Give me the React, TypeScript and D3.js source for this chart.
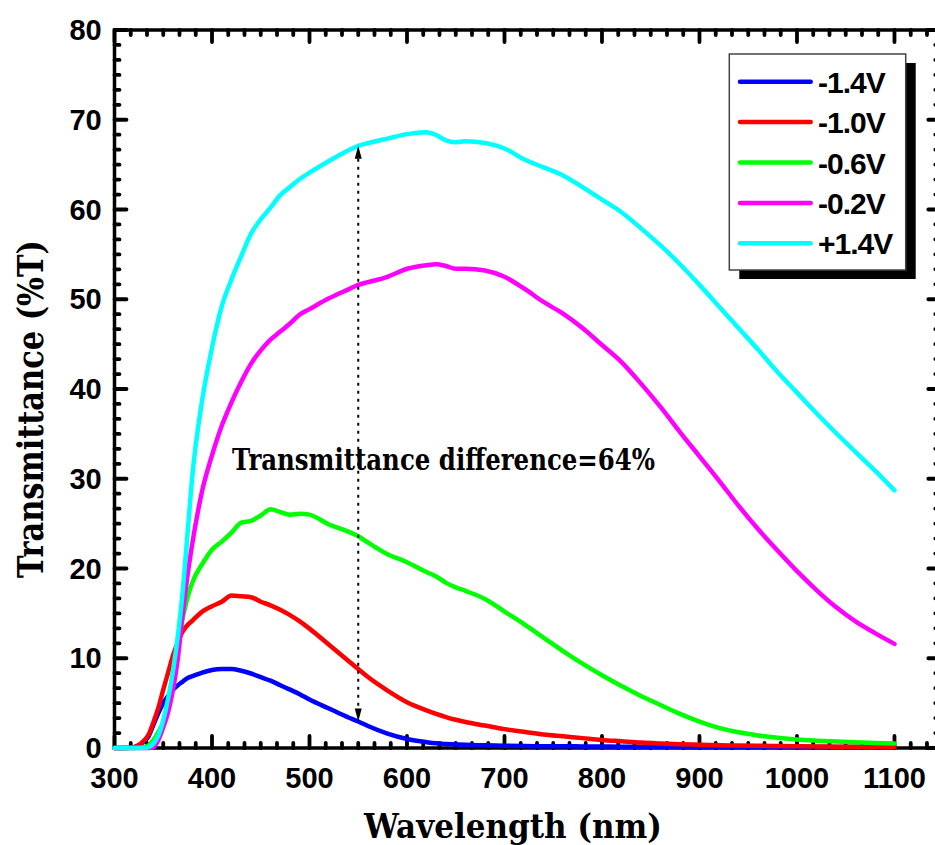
import React from 'react';
import * as d3 from 'd3';

const wavelengths = [300, 310, 320, 330, 335, 340, 345, 350, 355, 360, 365, 370, 375, 380, 390, 400, 410, 420, 430, 440, 450, 460, 470, 480, 490, 500, 520, 540, 550, 560, 580, 600, 620, 630, 640, 650, 660, 680, 700, 720, 740, 760, 780, 800, 820, 840, 860, 880, 900, 920, 940, 960, 980, 1000, 1020, 1040, 1060, 1080, 1100];

const vMinus14 = [0, 0, 0.1, 0.7, 1.3, 2.6, 3.9, 5.0, 5.8, 6.5, 7.0, 7.4, 7.8, 8.0, 8.4, 8.7, 8.8, 8.8, 8.6, 8.3, 7.9, 7.5, 7.0, 6.5, 6.0, 5.4, 4.4, 3.4, 2.95, 2.45, 1.6, 1.0, 0.65, 0.52, 0.45, 0.4, 0.35, 0.3, 0.25, 0.22, 0.2, 0.2, 0.18, 0.17, 0.15, 0.15, 0.14, 0.13, 0.12, 0.12, 0.11, 0.1, 0.1, 0.1, 0.1, 0.1, 0.1, 0.1, 0.1];
const vMinus10 = [0, 0, 0.1, 0.8, 1.5, 2.9, 4.5, 6.5, 8.4, 10.3, 11.8, 13.0, 13.7, 14.2, 15.2, 15.8, 16.3, 17.0, 16.9, 16.8, 16.3, 15.9, 15.4, 14.8, 14.1, 13.3, 11.5, 9.7, 8.8, 7.9, 6.4, 5.1, 4.2, 3.8, 3.45, 3.15, 2.9, 2.5, 2.1, 1.8, 1.5, 1.3, 1.1, 0.9, 0.75, 0.6, 0.5, 0.42, 0.36, 0.31, 0.28, 0.25, 0.22, 0.2, 0.18, 0.15, 0.13, 0.12, 0.1];
const vMinus06 = [0, 0, 0, 0.1, 0.3, 0.9, 1.8, 2.9, 5.2, 8.1, 11.7, 14.5, 16.8, 18.5, 20.5, 22.1, 23.0, 24.0, 25.1, 25.3, 25.9, 26.6, 26.3, 26.0, 26.1, 26.0, 24.9, 24.1, 23.6, 22.9, 21.6, 20.7, 19.6, 19.1, 18.4, 17.9, 17.5, 16.6, 15.2, 13.8, 12.3, 10.8, 9.4, 8.1, 6.9, 5.8, 4.8, 3.8, 2.95, 2.25, 1.75, 1.4, 1.15, 0.95, 0.82, 0.72, 0.63, 0.56, 0.5];
const vMinus02 = [0, 0, 0, 0, 0, 0.1, 0.9, 2.3, 4.0, 6.5, 10.0, 15.0, 19.3, 22.9, 28.7, 32.6, 35.9, 38.5, 40.8, 42.8, 44.3, 45.5, 46.4, 47.3, 48.3, 48.9, 50.1, 51.1, 51.6, 51.9, 52.5, 53.4, 53.8, 53.9, 53.7, 53.4, 53.4, 53.2, 52.5, 51.2, 49.7, 48.4, 46.8, 44.9, 43.0, 40.6, 38.0, 35.2, 32.5, 29.8, 27.0, 24.4, 22.0, 19.7, 17.6, 15.7, 14.1, 12.8, 11.6];
const vPlus14 = [0, 0, 0, 0, 0.1, 0.5, 1.4, 3.1, 5.5, 8.6, 12.5, 17.5, 24.0, 30.5, 38.8, 44.6, 49.2, 52.2, 54.8, 57.3, 58.9, 60.2, 61.6, 62.5, 63.4, 64.1, 65.4, 66.6, 67.1, 67.4, 67.9, 68.4, 68.6, 68.3, 67.7, 67.5, 67.6, 67.4, 66.8, 65.6, 64.7, 63.8, 62.5, 61.1, 59.7, 57.9, 56.0, 53.9, 51.6, 49.2, 46.8, 44.4, 41.9, 39.6, 37.3, 35.1, 33.0, 30.9, 28.7];

const seriesNames = ['-1.4V', '-1.0V', '-0.6V', '-0.2V', '+1.4V'];
const seriesValues = [vMinus14, vMinus10, vMinus06, vMinus02, vPlus14];
const seriesColors = ['#0000ff', '#ff0000', '#00ff00', '#ff00ff', '#00ffff'];

const xTickValues = [300, 400, 500, 600, 700, 800, 900, 1000, 1100];
const yTickValues = [0, 10, 20, 30, 40, 50, 60, 70, 80];

const annotationText = 'Transmittance difference=64%';
const annotationWavelength = 550;
const xTitle = 'Wavelength (nm)';
const yTitle = 'Transmittance (%T)';

const W = 935;
const H = 845;
const xMin = 300;
const xMax = 1147;
const yMin = 0;
const yMax = 80;

function notMajor(v: number, step: number) {
  const r = v / step;
  return Math.abs(r - Math.round(r)) > 1e-6;
}

export default function App() {
  const x = d3.scaleLinear().domain([xMin, xMax]).range([114.5, 940.3]);
  const y = d3.scaleLinear().domain([yMin, yMax]).range([748, 30]);

  const line = d3
    .line<number>()
    .x((_, i) => x(wavelengths[i]))
    .y((d) => y(d))
    .curve(d3.curveMonotoneX);

  const xMinor: number[] = [];
  for (let i = 0; i < 60; i++) {
    const v = xMin + (i * 100) / 6;
    if (v <= xMax && notMajor(v, 100)) xMinor.push(v);
  }
  const yMinor: number[] = [];
  for (let i = 0; i <= 48; i++) {
    const v = (i * 10) / 6;
    if (v <= yMax && notMajor(v, 10)) yMinor.push(v);
  }

  const xl = x(xMin);
  const xr = x(xMax);
  const yb = y(yMin);
  const yt = y(yMax);
  const majorLen = 12;
  const minorLen = 5;

  let tickPath = '';
  for (const v of xTickValues) {
    const px = x(v);
    tickPath += `M${px},${yb}V${yb - majorLen}M${px},${yt}V${yt + majorLen}`;
  }
  for (const v of xMinor) {
    const px = x(v);
    tickPath += `M${px},${yb}V${yb - minorLen}M${px},${yt}V${yt + minorLen}`;
  }
  for (const v of yTickValues) {
    const py = y(v);
    tickPath += `M${xl},${py}H${xl + majorLen}M${xr},${py}H${xr - majorLen}`;
  }
  for (const v of yMinor) {
    const py = y(v);
    tickPath += `M${xl},${py}H${xl + minorLen}M${xr},${py}H${xr - minorLen}`;
  }

  const sansFont = "'Liberation Sans', Arial, sans-serif";
  const serifFont = "'DejaVu Serif', 'Liberation Serif', serif";

  const ai = wavelengths.indexOf(annotationWavelength);
  const arrowX = x(annotationWavelength);
  const arrowTop = y(vPlus14[ai]);
  const arrowBottom = y(vMinus14[ai]);
  const headLen = 13;
  const headHalf = 3.5;

  const legendX = 729.3;
  const legendY = 54;
  const legendW = 176.4;
  const legendH = 216;
  const rowStart = 81.7;
  const rowStep = 40.4;

  return (
    <svg
      width={W}
      height={H}
      viewBox={`0 0 ${W} ${H}`}
      style={{ position: 'absolute', left: 0, top: 0, background: '#fff' }}
    >
      <rect x={0} y={0} width={W} height={H} fill="#fff" />

      {/* frame */}
      <rect x={xl} y={yt} width={xr - xl} height={yb - yt} fill="none" stroke="#000" strokeWidth={3.5} />

      {/* ticks */}
      <path d={tickPath} fill="none" stroke="#000" strokeWidth={3.8} strokeLinecap="round" />

      {/* tick labels */}
      <g fontFamily={sansFont} fontWeight="bold" fontSize={29} fill="#000">
        {xTickValues.map((v) => (
          <text key={'xlab' + v} x={x(v)} y={788} textAnchor="middle">
            {v}
          </text>
        ))}
        {yTickValues.map((v) => (
          <text key={'ylab' + v} x={101.7} y={y(v) + 10} textAnchor="end">
            {v}
          </text>
        ))}
      </g>

      {/* axis titles */}
      <text
        x={513}
        y={838}
        textAnchor="middle"
        fontFamily={serifFont}
        fontWeight="bold"
        fontSize={34}
        textLength={298}
        lengthAdjust="spacingAndGlyphs"
      >
        {xTitle}
      </text>
      <text
        transform="translate(43,409) rotate(-90)"
        textAnchor="middle"
        fontFamily={serifFont}
        fontWeight="bold"
        fontSize={35}
        textLength={338}
        lengthAdjust="spacingAndGlyphs"
      >
        {yTitle}
      </text>

      {/* curves */}
      <g fill="none" strokeWidth={4.5} strokeLinejoin="round" strokeLinecap="round">
        {seriesValues.map((vals, i) => (
          <path key={seriesNames[i]} d={line(vals) || ''} stroke={seriesColors[i]} />
        ))}
      </g>

      {/* annotation arrow */}
      <line
        x1={arrowX}
        x2={arrowX}
        y1={arrowTop + headLen}
        y2={arrowBottom - headLen}
        stroke="#000"
        strokeWidth={2}
        strokeDasharray="3,5"
      />
      <polygon
        points={`${arrowX},${arrowTop} ${arrowX - headHalf},${arrowTop + headLen} ${arrowX + headHalf},${arrowTop + headLen}`}
        fill="#000"
      />
      <polygon
        points={`${arrowX},${arrowBottom} ${arrowX - headHalf},${arrowBottom - headLen} ${arrowX + headHalf},${arrowBottom - headLen}`}
        fill="#000"
      />
      <text
        x={232}
        y={470}
        fontFamily={serifFont}
        fontWeight="bold"
        fontSize={30}
        textLength={423}
        lengthAdjust="spacingAndGlyphs"
      >
        {annotationText}
      </text>

      {/* legend */}
      <rect x={legendX + 10} y={legendY + 9} width={legendW} height={legendH} fill="#000" />
      <rect x={legendX} y={legendY} width={legendW} height={legendH} fill="#fff" stroke="#444" strokeWidth={1.5} />
      {seriesNames.map((name, i) => {
        const ry = rowStart + i * rowStep;
        return (
          <g key={'lg' + name}>
            <line x1={740} x2={810.7} y1={ry} y2={ry} stroke={seriesColors[i]} strokeWidth={4.5} strokeLinecap="round" />
            <text
              x={818}
              y={ry + 11}
              fontFamily={sansFont}
              fontWeight="bold"
              fontSize={30}
              letterSpacing={-1}
            >
              {name}
            </text>
          </g>
        );
      })}
    </svg>
  );
}
